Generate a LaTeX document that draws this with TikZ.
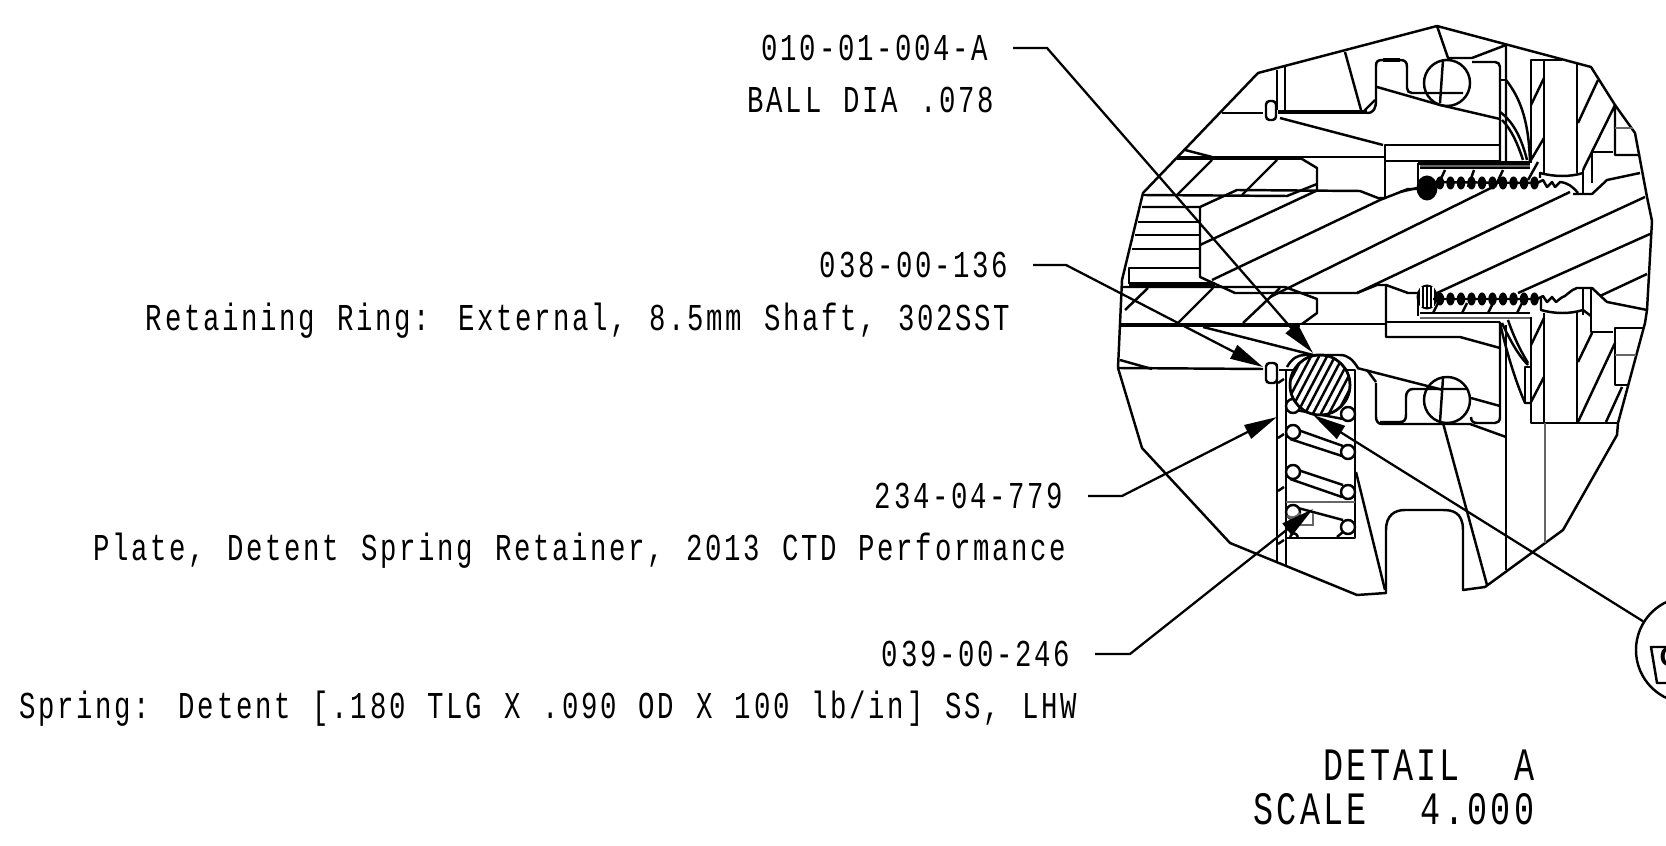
\documentclass[tikz,border=0pt]{standalone}
\usepackage{fontspec}
\usepackage{tikz}
\usetikzlibrary{arrows.meta}
\usetikzlibrary{calc}
\newfontfamily\dwgfont[FakeStretch=0.72,LetterSpace=7,WordSpace=1.163]{Liberation Mono}
\newfontfamily\plainfont{Liberation Sans}
\tikzset{
    edge/.style={black, line width=0.7pt, line join=round},
    heavy/.style={black, line width=1.15pt},
    phantomln/.style={black!60, line width=0.8pt},
    leader/.style={black, line width=0.65pt, -{Triangle[length=0.33cm,width=0.15cm]}},
    partno/.style={font=\dwgfont\fontsize{10.8}{12}\selectfont, inner xsep=0pt, inner ysep=0pt, outer xsep=0.25cm, outer ysep=0pt, text height=0.25cm, text depth=0cm, anchor=east},
    partname/.style={partno, outer xsep=0pt},
    titletext/.style={font=\dwgfont\fontsize{13.2}{15}\selectfont, inner sep=0pt, text height=0.31cm, text depth=0cm, anchor=east},
}
\begin{document}
\begin{tikzpicture}[x=0.01cm,y=-0.01cm]
        \useasboundingbox (0,0) rectangle (1666,846);

        % labels
        \node[partno] (partA) at (1013,48) {010-01-004-A};
        \node[partname] (nameA) at (994,100) {BALL DIA .078};
        \node[partno] (partB) at (1033,265) {038-00-136};
        \node[partname] (nameB) at (1010,318) {Retaining Ring: External, 8.5mm Shaft, 302SST};
        \node[partno] (partC) at (1088,496) {234-04-779};
        \node[partname] (nameC) at (1066,548) {Plate, Detent Spring Retainer, 2013 CTD Performance};
        \node[partno] (partD) at (1095,654) {039-00-246};
        \node[partname] (nameD) at (1077,706) {Spring: Detent [.180 TLG X .090 OD X 100 lb/in] SS, LHW};
        \node[titletext] (titleA) at (1535,765) {DETAIL~~A};
        \node[titletext] (titleB) at (1535,809) {SCALE~~4.000};

        % outline of the detail
        \draw[edge] (1258,73) -- (1437,26) -- (1591,67) -- (1615,105) -- (1635,133) -- (1647,197) -- (1652,221) -- (1647,310) -- (1645,323) -- (1618,423) -- (1617,435) -- (1563,530) -- (1485,587) -- (1463,590) -- (1463,530) .. controls (1463,512) and (1452,510) .. (1443,510) -- (1405,510) .. controls (1395,510) and (1386,515) .. (1386,530) -- (1386,593) -- (1357,595) -- (1230,543) -- (1142,448) -- (1118,368) -- (1120,324) -- (1122,280) -- (1143,193) -- cycle;

        % upper body
        \draw[edge] (1222,113) -- (1263,113);
        \draw[edge, rounded corners=1pt] (1266,101) rectangle (1276,120);
        \draw[edge] (1277,70) -- (1277,110);
        \draw[edge] (1285,67) -- (1285,110);
        \draw[heavy] (1278,112) -- (1367,112);
        \draw[edge] (1345,52) -- (1361,110);
        \draw[edge] (1363,112) -- (1375,100);
        \draw[edge] (1367,113) .. controls (1374,113) and (1376,108) .. (1376,100) -- (1376,66) .. controls (1376,61) and (1378,60) .. (1383,60);
        \draw[heavy] (1383,60) -- (1400,60);
        \draw[edge] (1400,60) .. controls (1405,60) and (1407,62) .. (1407,67) -- (1407,88) .. controls (1407,91) and (1409,93) .. (1412,93) -- (1463,93);
        \draw[edge] (1472,62) -- (1495,62) .. controls (1498,62) and (1500,64) .. (1500,67) -- (1500,162);
        \draw[edge] (1377,87) -- (1440,105) -- (1500,119);
        \draw[edge] (1447,83) circle (0.23cm);
        \draw[edge] (1437,26) -- (1448,58) -- (1472,58) -- (1506,45) -- (1506,162);
        \draw[edge] (1443,60) -- (1440,103);
        \draw[edge] (1500,80) -- (1506,80);
        \draw[edge] (1506,80) .. controls (1522,100) and (1529,125) .. (1530,163);
        \draw[edge] (1500,112) .. controls (1514,122) and (1522,140) .. (1527,160);
        \draw[edge] (1502,120) .. controls (1512,130) and (1518,145) .. (1523,160);
        \draw[edge] (1531,163) -- (1531,60) -- (1562,60);
        \draw[edge] (1544,60) -- (1544,173);
        \draw[edge] (1577,64) -- (1577,173);
        \draw[edge] (1531,105) -- (1544,78);
        \draw[edge] (1531,160) -- (1544,138);
        \draw[edge] (1578,123) -- (1598,80);
        \draw[edge] (1583,170) -- (1615,105) -- (1615,155) -- (1640,155);
        \draw[phantomln] (1615,128) -- (1633,128);
        \draw[edge] (1592,183) -- (1592,152) -- (1613,152);
        \draw[edge] (1583,170) -- (1583,193);
        \draw[edge] (1573,194) -- (1592,194) -- (1607,180) -- (1640,173);
        \draw[edge] (1540,178) -- (1540,173) .. controls (1555,177) and (1570,177) .. (1583,173);
        \draw[edge] (1280,118) -- (1383,145);
        \draw[edge] (1385,198) -- (1385,145) -- (1500,145);
        \draw[edge] (1385,161) -- (1500,161);
        \draw[heavy] (1177,158) -- (1303,158);
        \draw[edge] (1303,157) -- (1385,157);
        \draw[edge] (1185,150) -- (1212,157);
        \draw[edge] (1302,159) -- (1317,168) -- (1317,191);
        \draw[edge] (1143,195) -- (1287,196) -- (1317,184);
        \draw[edge] (1177,195) -- (1212,160);
        \draw[edge] (1242,195) -- (1277,160);
        \draw[edge] (1142,207) -- (1200,207) -- (1237,190) -- (1360,191) -- (1378,198) -- (1385,198);
        \draw[edge] (1200,207) -- (1200,277) -- (1235,293) -- (1357,293) -- (1377,285) -- (1386,285) -- (1408,293) -- (1420,293);
        \draw[edge] (1138,222) -- (1199,222);
        \draw[edge] (1135,235) -- (1199,235);
        \draw[edge] (1132,249) -- (1199,249);
        \draw[edge] (1199,268) -- (1129,268) -- (1129,284);
        \draw[heavy] (1129,284) -- (1215,284);
        \draw[edge] (1122,287) -- (1285,287) -- (1317,299) -- (1317,313) -- (1302,324);

        % shaft
        \draw[edge] (1200,245) -- (1318,190);
        \draw[edge] (1212,280) -- (1380,200) -- (1408,189) -- (1420,189);
        \draw[edge] (1270,297) -- (1493,187);
        \draw[edge] (1357,293) -- (1570,192);
        \draw[edge] (1437,293) -- (1645,197);
        \draw[edge] (1518,293) -- (1650,234);
        \draw[edge] (1600,296) -- (1647,274);

        % upper thread
        \draw[heavy] (1418,163) -- (1530,163);
        \draw[phantomln] (1420,166) -- (1530,166);
        \draw[edge] (1420,168) -- (1530,168);
        \draw[edge] (1418,163) -- (1418,190);
        \draw[edge] (1400,192) -- (1417,188);
        \fill[black] (1427,188) ellipse (0.105cm and 0.125cm);
        \foreach \px in {1440,1450.5,...,1536}{
            \fill[black] (\px,183) ellipse (0.042cm and 0.065cm);
        }
        \draw[edge] (1420,182) -- (1537,183) -- (1543,180) -- (1547,187) -- (1552,182) -- (1555,187) -- (1560,182) .. controls (1568,183) and (1572,186) .. (1578,193);
        \draw[edge] (1437,187) -- (1445,170);
        \draw[edge] (1468,187) -- (1474,170);
        \draw[edge] (1495,187) -- (1503,170);
        \draw[edge] (1528,180) -- (1538,162);

        % lower thread
        \fill[black] (1427,297) ellipse (0.105cm and 0.125cm);
        \foreach \px in {1421,1425,...,1433}{
            \draw[white, line width=0.5pt] (\px,287) -- (\px,307);
        }
        \draw[edge] (1418,293) -- (1418,316);
        \foreach \px in {1440,1450.5,...,1536}{
            \fill[black] (\px,299) ellipse (0.042cm and 0.065cm);
        }
        \draw[edge] (1433,299) -- (1537,299) -- (1543,296) -- (1547,302) -- (1552,297) -- (1556,302) -- (1561,298) .. controls (1567,296) and (1570,290) .. (1577,288) -- (1592,288) -- (1607,302) -- (1647,310);
        \draw[edge] (1433,313) -- (1438,303);
        \draw[edge] (1462,313) -- (1467,303);
        \draw[edge] (1488,313) -- (1493,303);
        \draw[edge] (1517,313) -- (1522,303);
        \draw[edge] (1420,313) -- (1530,313);
        \draw[phantomln] (1420,318) -- (1530,318);
        \draw[edge] (1386,322) -- (1500,322);

        % lower body
        \draw[edge] (1386,285) -- (1386,337) -- (1460,337) -- (1500,348);
        \draw[edge] (1500,322) -- (1500,417) .. controls (1500,421) and (1498,423) .. (1495,423) -- (1477,423) .. controls (1473,423) and (1471,421) .. (1471,417);
        \draw[edge] (1471,398) -- (1500,406);
        \draw[edge] (1447,400) circle (0.23cm);
        \draw[edge] (1380,422) -- (1400,422) .. controls (1404,422) and (1406,420) .. (1406,415) -- (1406,397) .. controls (1406,392) and (1409,389) .. (1413,389) -- (1468,389);
        \draw[edge] (1376,383) -- (1376,417) .. controls (1376,421) and (1378,424) .. (1382,424) -- (1470,424) -- (1506,437);
        \draw[edge] (1367,370) -- (1376,382);
        \draw[edge] (1357,368) -- (1443,390);
        \draw[edge] (1443,378) -- (1440,422);
        \draw[edge] (1443,423) -- (1487,585);
        \draw[edge] (1506,325) -- (1506,570);
        \draw[edge] (1500,323) .. controls (1506,350) and (1515,380) .. (1525,403) -- (1530,403);
        \draw[edge] (1525,403) -- (1525,367) -- (1530,367);
        \draw[edge] (1502,323) .. controls (1510,340) and (1518,355) .. (1528,365);
        \draw[edge] (1508,320) .. controls (1513,335) and (1520,350) .. (1528,363);
        \draw[edge] (1531,317) -- (1531,423) -- (1618,423);
        \draw[edge] (1544,313) -- (1544,423);
        \draw[phantomln] (1545,423) -- (1545,543);
        \draw[edge] (1577,312) -- (1577,423);
        \draw[edge] (1531,345) -- (1544,318);
        \draw[edge] (1531,402) -- (1544,377);
        \draw[edge] (1578,362) -- (1592,333);
        \draw[edge] (1578,422) -- (1615,343);
        \draw[edge] (1606,422) -- (1622,387);
        \draw[edge] (1591,288) -- (1591,332) -- (1613,332);
        \draw[edge] (1583,287) -- (1583,315);
        \draw[edge] (1541,298) -- (1541,310) .. controls (1555,314) and (1570,314) .. (1583,310);
        \draw[edge] (1583,310) -- (1591,316);
        \draw[edge] (1643,328) -- (1615,328) -- (1615,385) -- (1628,385);
        \draw[phantomln] (1615,355) -- (1636,355);

        % retaining plate side
        \draw[heavy] (1120,325) -- (1300,325);
        \draw[edge] (1300,324) -- (1385,324);
        \draw[edge] (1125,310) -- (1148,288);
        \draw[edge] (1178,323) -- (1213,288);
        \draw[edge] (1243,323) -- (1280,288);
        \draw[edge] (1203,327) -- (1313,355);
        \draw[edge] (1118,368) -- (1263,369);
        \draw[edge] (1120,360) -- (1152,369);
        \draw[edge, rounded corners=1pt] (1266,363) rectangle (1277,383);
        \draw[edge] (1277,364) -- (1277,563);
        \draw[edge] (1286,370) -- (1286,565);
        \draw[edge] (1279,370) -- (1355,370) -- (1355,538) -- (1286,538);
        \draw[edge] (1287,367) .. controls (1292,358) and (1298,355) .. (1305,355) -- (1340,355) .. controls (1348,355) and (1353,360) .. (1358,368);
        \foreach \py in {383,438,491,544}{
            \draw[edge] (1278,\py) -- (1284,\py-4);
        }
        \draw[edge] (1356,472) -- (1385,590);

        % spring
        \draw[edge] (1296,410) -- (1343,419);
        \draw[edge] (1298,430) -- (1343,446);
        \draw[edge] (1290,439) -- (1342,456);
        \draw[edge] (1298,470) -- (1343,485);
        \draw[edge] (1290,479) -- (1342,497);
        \draw[edge] (1298,508) -- (1343,520);
        \foreach \px/\py in {1293/406,1348/414,1293/432,1348/452,1293/472,1348/492,1293/512,1348/527}{
            \filldraw[edge, fill=white] (\px,\py) circle (0.07cm);
        }
        \draw[edge] (1290,537) .. controls (1292,532) and (1296,532) .. (1298,537);
        \draw[edge] (1337,537) -- (1343,532);
        \draw[phantomln] (1286,502) -- (1355,502);
        \draw[phantomln] (1287,516) .. controls (1292,519) and (1297,518) .. (1300,513);
        \draw[phantomln] (1313,513) -- (1313,525) -- (1300,525);

        % ball
        \filldraw[edge, fill=white] (1320,385) circle (0.3cm);
        \begin{scope}
            \clip (1320,385) circle (0.3cm);
            \foreach \hx in {-56,-48,...,56}{
                \draw[black, line width=0.7pt] (1320+\hx-21,425) -- (1320+\hx+21,345);
            }
        \end{scope}
        \draw[edge] (1320,385) circle (0.3cm);

        % balloon on the right, cut off by the page
        \begin{scope}
            \clip (0,0) rectangle (1666,846);
            \node[draw, circle, black, line width=0.7pt, minimum size=1.06cm, inner sep=0pt] (bubbleA) at (1689,650) {};
            \draw[edge] (1672,647) -- (1651,647) -- (1657,683) -- (1672,683);
            \node[inner sep=0pt, font=\plainfont\bfseries\fontsize{8}{9}\selectfont, anchor=west] (bubbleG) at (1659,657) {G};
        \end{scope}

        % leaders
        \coordinate (kinkA) at (1047,48);
        \coordinate (tipA) at (1313,353);
        \coordinate (kinkB) at (1066,265);
        \coordinate (tipB) at (1263,367);
        \coordinate (kinkC) at (1122,496);
        \coordinate (tipC) at (1277,417);
        \coordinate (kinkD) at (1130,654);
        \coordinate (tipD) at (1313,509);
        \coordinate (tipE) at (1313,415);
        \draw[leader] (partA.east) -- (kinkA) -- (tipA);
        \draw[leader] (partB.east) -- (kinkB) -- (tipB);
        \draw[leader] (partC.east) -- (kinkC) -- (tipC);
        \draw[leader] (partD.east) -- (kinkD) -- (tipD);
        \draw[leader] (bubbleA) -- (tipE);

    \end{tikzpicture}
\end{document}
